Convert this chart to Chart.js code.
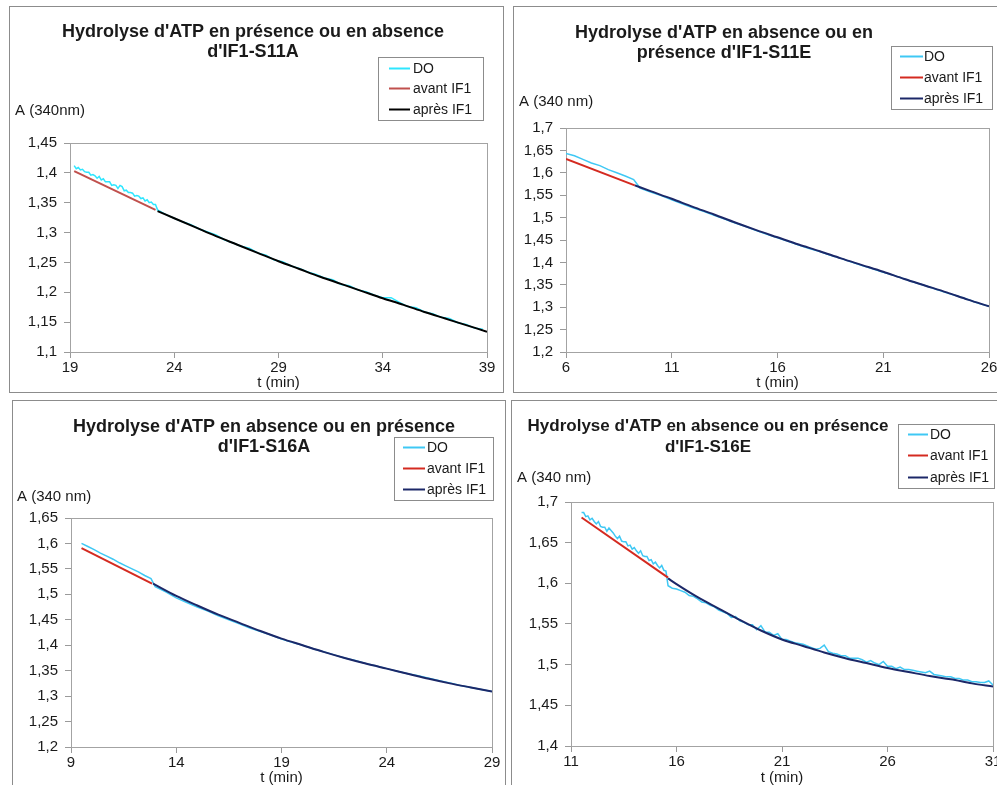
<!DOCTYPE html>
<html><head><meta charset="utf-8">
<script src="https://cdn.jsdelivr.net/npm/chart.js@4"></script>
<style>
html,body{margin:0;padding:0;background:#fff;overflow:hidden;width:997px;height:785px;}
.panel{position:absolute;border:1px solid #8c8c8c;box-sizing:border-box;background:#fff;overflow:hidden;}
.panel canvas{position:absolute;left:0;top:0;}
</style></head><body>
<div class="panel" style="left:9px;top:6px;width:495px;height:387px"><canvas id="c1" width="493" height="385"></canvas></div>
<div class="panel" style="left:513px;top:6px;width:500px;height:387px"><canvas id="c2" width="483" height="385"></canvas></div>
<div class="panel" style="left:12px;top:400px;width:494px;height:400px"><canvas id="c3" width="492" height="384"></canvas></div>
<div class="panel" style="left:511px;top:400px;width:500px;height:400px"><canvas id="c4" width="485" height="384"></canvas></div>
<script>
// ---------- DATA ----------
const legendLabels = ['DO', 'avant IF1', 'après IF1'];

// Panel 1 : IF1-S11A
const titles1 = ["Hydrolyse d'ATP en présence ou en absence", "d'IF1-S11A"];
const yTitle1 = 'A (340nm)';
const xTicks1 = [19, 24, 29, 34, 39];
const yTicks1 = [1.1, 1.15, 1.2, 1.25, 1.3, 1.35, 1.4, 1.45];
const doStart1a = 19.2, doStep1a = 0.1;
const doA1a = [1.412,1.407,1.409,1.405,1.406,1.402,1.401,1.401,1.396,1.397,1.395,1.391,1.394,1.388,1.390,1.385,1.385,1.385,1.379,1.380,
               1.379,1.374,1.379,1.377,1.370,1.371,1.367,1.367,1.366,1.361,1.362,1.361,1.357,1.358,1.353,1.355,1.350,1.351,1.347,1.347];
const doStart1b = 23.2, doStep1b = 0.4;
const doA1b = [1.338,1.330,1.324,1.318,1.313,1.306,1.301,1.296,1.288,1.283,1.277,1.274,1.266,1.262,1.254,1.251,1.244,1.240,1.234,1.230,
               1.224,1.221,1.213,1.211,1.204,1.201,1.195,1.191,1.191,1.183,1.176,1.174,1.167,1.164,1.158,1.156,1.149,1.146,1.140,1.138];
const avantT1 = [19.2, 23.1];
const avantA1 = [1.403, 1.338];
const apresT1 = [23.2,24,25,26,27,28,29,30,31,32,33,34,35,36,37,38,39];
const apresA1 = [1.336,1.324,1.309,1.294,1.280,1.266,1.252,1.239,1.226,1.214,1.202,1.190,1.179,1.167,1.156,1.145,1.134];

// Panel 2 : IF1-S11E
const titles2 = ["Hydrolyse d'ATP en absence ou en", "présence d'IF1-S11E"];
const yTitle2 = 'A (340 nm)';
const xTicks2 = [6, 11, 16, 21, 26];
const yTicks2 = [1.2, 1.25, 1.3, 1.35, 1.4, 1.45, 1.5, 1.55, 1.6, 1.65, 1.7];
const doStart2a = 6.0, doStep2a = 0.4;
const doA2a = [1.643,1.638,1.630,1.622,1.616,1.607,1.600,1.593,1.585];
const doStart2b = 9.5, doStep2b = 0.5;
const doA2b = [1.566,1.557,1.549,1.540,1.531,1.522,1.514,1.505,1.497,1.488,1.480,1.471,1.463,1.455,1.447,1.439,1.431,1.424,1.416,1.409,
               1.401,1.393,1.386,1.378,1.371,1.363,1.355,1.348,1.340,1.332,1.325,1.317,1.309,1.302];
const avantT2 = [6.0, 9.25];
const avantA2 = [1.631, 1.572];
const apresT2 = [9.25,10,11,12,13,14,15,16,17,18,19,20,21,22,23,24,25,26];
const apresA2 = [1.572,1.559,1.542,1.524,1.507,1.489,1.472,1.456,1.440,1.425,1.409,1.394,1.379,1.363,1.348,1.333,1.317,1.302];

// Panel 3 : IF1-S16A
const titles3 = ["Hydrolyse d'ATP en absence ou en présence", "d'IF1-S16A"];
const yTitle3 = 'A (340 nm)';
const xTicks3 = [9, 14, 19, 24, 29];
const yTicks3 = [1.2, 1.25, 1.3, 1.35, 1.4, 1.45, 1.5, 1.55, 1.6, 1.65];
const doStart3a = 9.5, doStep3a = 0.3;
const doA3a = [1.600,1.594,1.588,1.581,1.575,1.569,1.562,1.556,1.550,1.544,1.537,1.531];
const doStart3b = 13.0, doStep3b = 0.5;
const doA3b = [1.515,1.505,1.493,1.484,1.475,1.467,1.458,1.450,1.442,1.434,1.427,1.420,1.412,1.406,1.400,1.393,1.387,1.381,1.375,1.370,
               1.364,1.359,1.354,1.349,1.344,1.340,1.335,1.330,1.326,1.321,1.317,1.313,1.309];
const avantT3 = [9.5, 12.85];
const avantA3 = [1.591, 1.521];
const apresT3 = [12.9,14,15,16,17,18,19,20,21,22,23,24,25,26,27,28,29];
const apresA3 = [1.521,1.497,1.478,1.460,1.444,1.428,1.413,1.400,1.387,1.375,1.364,1.354,1.344,1.334,1.325,1.317,1.309];

// Panel 4 : IF1-S16E
const titles4 = ["Hydrolyse d'ATP en absence ou en présence", "d'IF1-S16E"];
const yTitle4 = 'A (340 nm)';
const xTicks4 = [11, 16, 21, 26, 31];
const yTicks4 = [1.4, 1.45, 1.5, 1.55, 1.6, 1.65, 1.7];
const doStart4a = 11.5, doStep4a = 0.1;
const doA4a = [1.687,1.687,1.682,1.683,1.678,1.680,1.676,1.673,1.676,1.670,1.669,1.669,1.664,1.668,1.665,1.662,1.658,1.655,1.658,1.652,
               1.651,1.651,1.646,1.647,1.642,1.644,1.640,1.637,1.640,1.634,1.633,1.633,1.628,1.629,1.624,1.626,1.622,1.619,1.622,1.616,1.615];
const doStart4b = 15.6, doStep4b = 0.2;
const doA4b = [1.597,1.594,1.593,1.591,1.589,1.585,1.584,1.581,1.577,1.576,
               1.573,1.571,1.567,1.565,1.563,1.558,1.559,1.554,1.552,1.549,
               1.549,1.543,1.548,1.540,1.540,1.536,1.538,1.531,1.531,1.529,
               1.527,1.526,1.525,1.523,1.521,1.519,1.520,1.524,1.516,1.514,
               1.513,1.511,1.511,1.508,1.508,1.508,1.506,1.503,1.505,1.502,
               1.500,1.504,1.498,1.498,1.495,1.497,1.494,1.494,1.493,1.492,
               1.491,1.490,1.492,1.488,1.487,1.486,1.485,1.485,1.483,1.483,
               1.481,1.481,1.479,1.479,1.478,1.478,1.480,1.475];
const avantT4 = [11.5, 15.6];
const avantA4 = [1.681, 1.607];
const apresT4 = [15.6,16,17,18,19,20,21,22,23,24,25,26,27,28,29,30,31];
const apresA4 = [1.606,1.599,1.583,1.569,1.555,1.542,1.531,1.523,1.515,1.508,1.502,1.496,1.491,1.486,1.482,1.477,1.473];

// ---------- HELPERS ----------
const FF = '"Liberation Sans", Arial, sans-serif';
const TXT = '#1a1a1a';
function pts(ts, vs) { return vs.map((v, i) => ({x: ts[i], y: v})); }
function stepPts(t0, dt, vs) { return vs.map((v, i) => ({x: Math.round((t0 + i * dt) * 1000) / 1000, y: v})); }
function fmt(v) { return String(v).replace('.', ','); }

function makeDecor(c) {
  return {
    id: 'decor',
    beforeDatasetsDraw(chart) {
      const a = chart.chartArea, ctx = chart.ctx;
      ctx.save();
      ctx.strokeStyle = '#a3a3a3'; ctx.lineWidth = 1;
      const l = Math.round(a.left), t = Math.round(a.top), r = Math.round(a.right), b = Math.round(a.bottom);
      ctx.strokeRect(l + 0.5, t + 0.5, r - l, b - t);
      ctx.restore();
    },
    afterDraw(chart) {
      const ctx = chart.ctx;
      ctx.save();
      ctx.fillStyle = TXT;
      ctx.font = 'bold ' + c.titleSize + 'px ' + FF;
      ctx.textAlign = 'center'; ctx.textBaseline = 'middle';
      c.title.forEach((s, i) => ctx.fillText(s, c.titleX, c.titleY[i]));
      ctx.font = '15px ' + FF;
      ctx.textAlign = 'left';
      ctx.fillText(c.yTitle, c.yTitleX, c.yTitleY);
      const L = c.legend;
      ctx.strokeStyle = '#8c8c8c'; ctx.lineWidth = 1;
      ctx.strokeRect(L.x + 0.5, L.y + 0.5, L.w, L.h);
      ctx.font = '14px ' + FF;
      chart.data.datasets.forEach((d, i) => {
        const y = L.rows[i];
        ctx.strokeStyle = d.borderColor; ctx.lineWidth = 2;
        ctx.beginPath(); ctx.moveTo(L.x0, y + 0.5); ctx.lineTo(L.x1, y + 0.5); ctx.stroke();
        ctx.fillText(d.label, L.tx, y + 1);
      });
      ctx.restore();
    }
  };
}

function makeChart(c) {
  const cv = document.getElementById(c.id);
  const W = cv.width, H = cv.height;
  const xT = c.xTicks, yT = c.yTicks;
  const axisCommon = () => ({
    grid: {display: true, drawOnChartArea: false, drawTicks: true, tickLength: 6, color: '#9a9a9a', lineWidth: 1},
    border: {display: false}
  });
  return new Chart(cv, {
    type: 'line',
    data: {
      datasets: [
        {label: legendLabels[0], data: c.doData, borderColor: c.colors[0], borderWidth: 1.5, pointRadius: 0, tension: 0, order: 3},
        {label: legendLabels[1], data: c.avantData, borderColor: c.colors[1], borderWidth: 2, pointRadius: 0, tension: 0, order: 2},
        {label: legendLabels[2], data: c.apresData, borderColor: c.colors[2], borderWidth: 2, pointRadius: 0, cubicInterpolationMode: 'monotone', order: 1}
      ]
    },
    options: {
      responsive: false, animation: false, events: [],
      layout: {padding: {left: 0, top: c.plot.top, right: W - c.plot.right, bottom: 0}},
      plugins: {legend: {display: false}, title: {display: false}, tooltip: {enabled: false}},
      scales: {
        x: Object.assign(axisCommon(), {
          type: 'linear', min: xT[0], max: xT[xT.length - 1],
          afterBuildTicks: s => { s.ticks = xT.map(v => ({value: v})); },
          afterFit: s => { s.height = H - c.plot.bottom; s.paddingLeft = 0; s.paddingRight = 0; s.paddingTop = 0; s.paddingBottom = 0; },
          ticks: {autoSkip: false, maxRotation: 0, minRotation: 0, padding: 1, color: TXT, font: {family: FF, size: 15}, callback: v => fmt(v)},
          title: {display: true, text: 't (min)', color: TXT, font: {family: FF, size: 15, lineHeight: 1}, padding: {top: 0, bottom: c.xTitlePad}}
        }),
        y: Object.assign(axisCommon(), {
          type: 'linear', min: yT[0], max: yT[yT.length - 1],
          afterBuildTicks: s => { s.ticks = yT.map(v => ({value: v})); },
          afterFit: s => { s.width = c.plot.left; s.paddingLeft = 0; s.paddingRight = 0; s.paddingTop = 0; s.paddingBottom = 0; },
          ticks: {autoSkip: false, padding: 7, color: TXT, font: {family: FF, size: 15}, callback: v => fmt(v)}
        })
      }
    },
    plugins: [makeDecor(c)]
  });
}

const colsA = ['#2ee6ff', '#c0504d', '#000000'];
const colsB = ['#3fc8f4', '#d42a20', '#1c2868'];

makeChart({
  id: 'c1', xTicks: xTicks1, yTicks: yTicks1, colors: colsA,
  doData: stepPts(doStart1a, doStep1a, doA1a).concat(stepPts(doStart1b, doStep1b, doA1b)),
  avantData: pts(avantT1, avantA1), apresData: pts(apresT1, apresA1),
  plot: {left: 60, top: 136, right: 477, bottom: 345}, xTitlePad: 1.5,
  title: titles1, titleSize: 18, titleX: 243, titleY: [25, 45],
  yTitle: yTitle1, yTitleX: 5, yTitleY: 104,
  legend: {x: 368, y: 50, w: 105, h: 63, rows: [61, 81, 102], x0: 379, x1: 400, tx: 403}
});
makeChart({
  id: 'c2', xTicks: xTicks2, yTicks: yTicks2, colors: colsB,
  doData: stepPts(doStart2a, doStep2a, doA2a).concat(stepPts(doStart2b, doStep2b, doA2b)),
  avantData: pts(avantT2, avantA2), apresData: pts(apresT2, apresA2),
  plot: {left: 52, top: 121, right: 475, bottom: 345}, xTitlePad: 1.5,
  title: titles2, titleSize: 18, titleX: 210, titleY: [26, 46],
  yTitle: yTitle2, yTitleX: 5, yTitleY: 95,
  legend: {x: 377, y: 39, w: 101, h: 63, rows: [49, 70, 91], x0: 386, x1: 409, tx: 410}
});
makeChart({
  id: 'c3', xTicks: xTicks3, yTicks: yTicks3, colors: colsB,
  doData: stepPts(doStart3a, doStep3a, doA3a).concat(stepPts(doStart3b, doStep3b, doA3b)),
  avantData: pts(avantT3, avantA3), apresData: pts(apresT3, apresA3),
  plot: {left: 58, top: 117, right: 479, bottom: 346}, xTitlePad: 0,
  title: titles3, titleSize: 18, titleX: 251, titleY: [26, 46],
  yTitle: yTitle3, yTitleX: 4, yTitleY: 96,
  legend: {x: 381, y: 36, w: 99, h: 63, rows: [46, 67, 88], x0: 390, x1: 412, tx: 414}
});
makeChart({
  id: 'c4', xTicks: xTicks4, yTicks: yTicks4, colors: colsB,
  doData: stepPts(doStart4a, doStep4a, doA4a).concat(stepPts(doStart4b, doStep4b, doA4b)),
  avantData: pts(avantT4, avantA4), apresData: pts(apresT4, apresA4),
  plot: {left: 59, top: 101, right: 481, bottom: 345}, xTitlePad: 0,
  title: titles4, titleSize: 17, titleX: 196, titleY: [25, 46],
  yTitle: yTitle4, yTitleX: 5, yTitleY: 77,
  legend: {x: 386, y: 23, w: 96, h: 64, rows: [33, 54, 76], x0: 396, x1: 416, tx: 418}
});
</script>
</body></html>
